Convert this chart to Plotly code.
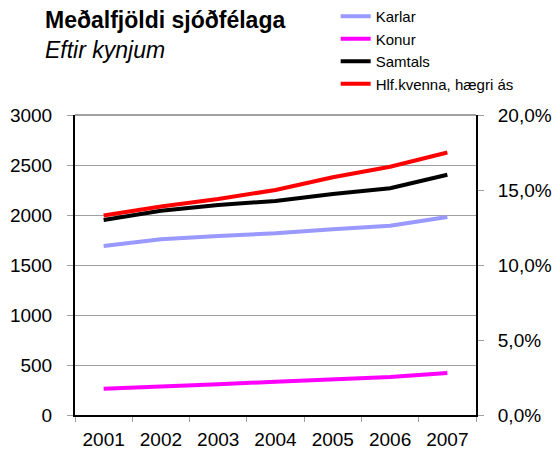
import plotly.graph_objects as go

years = ['2001', '2002', '2003', '2004', '2005', '2006', '2007']
karlar = [1690, 1757, 1790, 1817, 1857, 1893, 1980]
konur = [263, 290, 307, 333, 360, 380, 420]
samtals = [1950, 2043, 2100, 2140, 2210, 2267, 2403]
hlf_kvenna = [0.133, 0.139, 0.144, 0.150, 0.1585, 0.1655, 0.175]

FONT = 'Liberation Sans, Arial, sans-serif'

fig = go.Figure()
fig.add_trace(go.Scatter(x=years, y=karlar, mode='lines', name='Karlar',
                         line=dict(color='#9999ff', width=4)))
fig.add_trace(go.Scatter(x=years, y=konur, mode='lines', name='Konur',
                         line=dict(color='#ff00ff', width=4)))
fig.add_trace(go.Scatter(x=years, y=samtals, mode='lines', name='Samtals',
                         line=dict(color='#000000', width=4)))
fig.add_trace(go.Scatter(x=years, y=hlf_kvenna, mode='lines', name='Hlf.kvenna, hægri ás',
                         line=dict(color='#ff0000', width=4), yaxis='y2'))

fig.update_layout(
    width=553, height=457,
    margin=dict(l=75, r=77, t=115, b=42, autoexpand=False),
    paper_bgcolor='white', plot_bgcolor='white',
    font=dict(family=FONT, size=19, color='black'),
    separators=', ',
    showlegend=True,
    legend=dict(xref='container', yref='container', x=0.607, y=1.01,
                xanchor='left', yanchor='top', font=dict(size=15),
                tracegroupgap=0, itemwidth=30, bgcolor='rgba(0,0,0,0)'),
    xaxis=dict(type='category', showline=True, linecolor='black', linewidth=2,
               ticks='outside', ticklen=5, tickcolor='#a0a0a0', tickson='boundaries',
               showgrid=False, range=[-0.5, 6.5], tickangle=0, ticklabelstandoff=6),
    yaxis=dict(range=[0, 3000], dtick=500, showline=True, linecolor='black', linewidth=2,
               ticks='outside', ticklen=6, tickcolor='#a0a0a0', gridcolor='#a0a0a0',
               gridwidth=1, zeroline=False, ticklabelstandoff=11),
    yaxis2=dict(range=[0, 0.2], dtick=0.05, tickformat='.1%', overlaying='y', side='right',
                showline=True, linecolor='black', linewidth=2, showgrid=False,
                ticks='outside', ticklen=6, tickcolor='#a0a0a0', zeroline=False,
                ticklabelstandoff=10),
)

fig.add_shape(type='line', xref='paper', yref='paper', x0=0, x1=1, y0=1, y1=1,
              line=dict(color='#a0a0a0', width=2))

fig.add_annotation(xref='paper', yref='paper', x=-0.08, y=1.267, xanchor='left', yanchor='bottom',
                   text='<b>Meðalfjöldi sjóðfélaga</b>', showarrow=False,
                   font=dict(size=23, family=FONT))
fig.add_annotation(xref='paper', yref='paper', x=-0.08, y=1.167, xanchor='left', yanchor='bottom',
                   text='<i>Eftir kynjum</i>', showarrow=False,
                   font=dict(size=23, family=FONT))

fig.write_html('out.html', config={'displayModeBar': False},
               post_script="document.body.style.margin='0';")
